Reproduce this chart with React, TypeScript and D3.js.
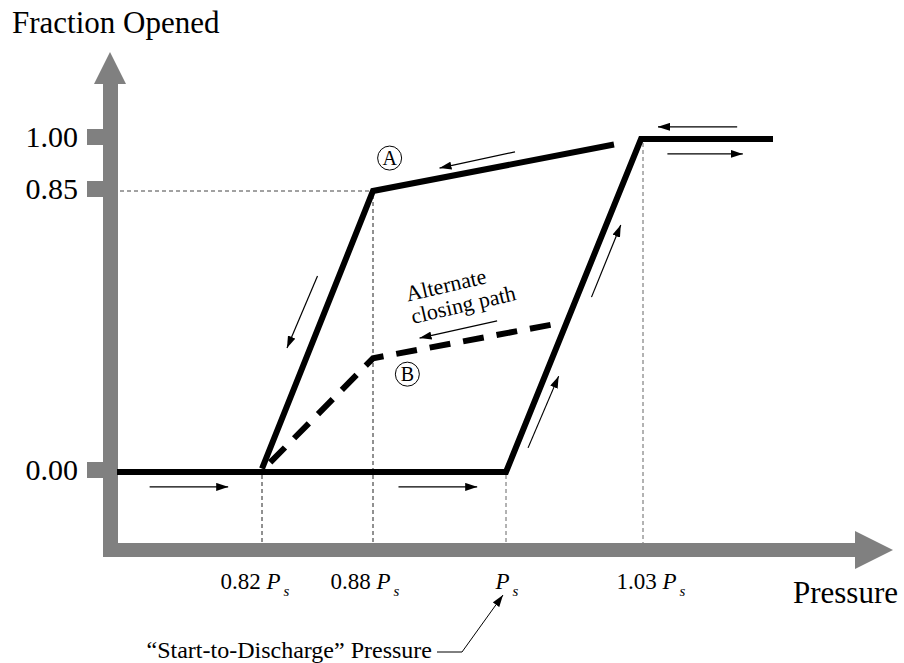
import React from "react";
import * as d3 from "d3";

// ---------- data ----------
const pressureTicks = [0.82, 0.88, 1.0, 1.03];
const pressureTickNumbers = ["0.82", "0.88", "", "1.03"];
const guideTopFraction = [0, 0.85, 0, 1.0];
const fractionTicks = [0, 0.85, 1.0];
const fractionTickLabels = ["0.00", "0.85", "1.00"];

// opening curve (pressure, fraction opened)
const openingPressure = [0.7, 1.0, 1.03, 1.1];
const openingFraction = [0, 0, 1.0, 1.0];
// closing curve via A
const closingPressure = [1.024, 0.88, 0.82];
const closingFraction = [0.984, 0.85, 0.01];
// alternate closing path via B
const alternatePressure = [1.0099, 0.88, 0.822];
const alternateFraction = [0.445, 0.344, 0.015];

// direction arrows: [p0, f0, p1, f1]
const directionArrows = [
  [0.727, -0.045, 0.792, -0.045],
  [0.903, -0.045, 0.974, -0.045],
  [1.081, 1.035, 1.039, 1.035],
  [1.044, 0.957, 1.084, 0.957],
  [1.002, 0.963, 0.94, 0.916],
  [0.85, 0.593, 0.8335, 0.375],
  [0.992, 0.457, 0.922, 0.405],
  [1.019, 0.529, 1.0255, 0.747],
  [1.0049, 0.073, 1.0117, 0.29],
];

const pointLabels = ["A", "B"];
const pointLabelPressure = [0.895, 0.911];
const pointLabelFraction = [0.945, 0.296];

const altLabelLines = ["Alternate", "closing path"];
const altLabelPressure = 0.916;
const altLabelFraction = 0.448;

const yAxisTitle = "Fraction Opened";
const xAxisTitle = "Pressure";
const calloutText = "\u201CStart-to-Discharge\u201D Pressure";

// ---------- layout ----------
const W = 904;
const H = 663;
const FONT = "'Liberation Serif', 'Times New Roman', serif";
const GRAY = "#808080";
const labelDx = [-7, -8, 1, 10];

export default function App() {
  const x = d3
    .scaleLinear()
    .domain([0.7, 0.82, 0.88, 1.0, 1.03, 1.1])
    .range([117, 262, 373, 506, 641, 773]);
  const y = d3.scaleLinear().domain([0, 0.85, 1.0]).range([472, 191, 139]);

  const line = d3
    .line<[number, number]>()
    .x((d) => x(d[0]))
    .y((d) => y(d[1]));

  const opening = openingPressure.map((p, i) => [p, openingFraction[i]] as [number, number]);
  const closing = closingPressure.map((p, i) => [p, closingFraction[i]] as [number, number]);
  const alternate = alternatePressure.map((p, i) => [p, alternateFraction[i]] as [number, number]);

  const axisX0 = 103;
  const axisW = 15;
  const xAxisY = 543;
  const xAxisEnd = 855;

  const psX = x(1.0);

  return (
    <svg
      width={W}
      height={H}
      style={{ position: "absolute", left: 0, top: 0, background: "#fff" }}
      fontFamily={FONT}
    >
      <defs>
        <marker
          id="ah"
          viewBox="0 0 12 8"
          refX={12}
          refY={4}
          markerWidth={12}
          markerHeight={8}
          markerUnits="userSpaceOnUse"
          orient="auto"
        >
          <path d="M0,0 L12,4 L0,8 Z" fill="#000" />
        </marker>
      </defs>

      {/* guides */}
      {pressureTicks.map((p, i) => (
        <line
          key={"g" + i}
          x1={x(p) + (i === 3 ? 2 : 0)}
          x2={x(p) + (i === 3 ? 2 : 0)}
          y1={y(guideTopFraction[i]) + (guideTopFraction[i] === 0 ? 3 : 4)}
          y2={xAxisY}
          stroke={i < 2 ? "#222" : "#666"}
          strokeWidth={1}
          strokeDasharray="4,3"
        />
      ))}
      <line
        x1={axisX0 + axisW + 2}
        x2={x(0.88)}
        y1={y(0.85)}
        y2={y(0.85)}
        stroke="#444"
        strokeWidth={1}
        strokeDasharray="4,3"
      />

      {/* axes */}
      <rect x={axisX0} y={83} width={axisW} height={xAxisY + 14 - 83} fill={GRAY} />
      <polygon points={`${axisX0 + axisW / 2 - 0.5},52 ${axisX0 - 9},84 ${axisX0 + axisW + 8},84`} fill={GRAY} />
      <rect x={axisX0} y={xAxisY} width={xAxisEnd - axisX0} height={14} fill={GRAY} />
      <polygon points={`${xAxisEnd},531 893,${xAxisY + 7} ${xAxisEnd},569`} fill={GRAY} />

      {/* y ticks */}
      {fractionTicks.map((f, i) => (
        <g key={"yt" + i}>
          <rect x={87} y={y(f) - 2 - 8} width={16} height={16} fill={GRAY} />
          <text x={78} y={y(f) - 2 + 10} fontSize={30} textAnchor="end" fill="#000">
            {fractionTickLabels[i]}
          </text>
        </g>
      ))}

      {/* x tick labels */}
      {pressureTicks.map((p, i) => (
        <text key={"xt" + i} x={x(p) + labelDx[i]} y={589} fontSize={23} textAnchor="middle" fill="#000">
          {pressureTickNumbers[i] ? pressureTickNumbers[i] + " " : ""}
          <tspan fontStyle="italic">P</tspan>
          <tspan fontStyle="italic" fontSize={15} dx={3} dy={7}>
            s
          </tspan>
        </text>
      ))}

      {/* curves */}
      <path d={line(opening) || ""} fill="none" stroke="#000" strokeWidth={6} strokeLinejoin="miter" />
      <path d={line(closing) || ""} fill="none" stroke="#000" strokeWidth={6} strokeLinejoin="miter" />
      <path
        d={line(alternate) || ""}
        fill="none"
        stroke="#000"
        strokeWidth={6}
        strokeDasharray="21,13"
        strokeLinejoin="miter"
      />

      {/* direction arrows */}
      {directionArrows.map((a, i) => (
        <line
          key={"da" + i}
          x1={x(a[0])}
          y1={y(a[1])}
          x2={x(a[2])}
          y2={y(a[3])}
          stroke="#000"
          strokeWidth={1.2}
          markerEnd="url(#ah)"
        />
      ))}

      {/* circled labels */}
      {pointLabels.map((t, i) => (
        <g key={"pl" + i} transform={`translate(${x(pointLabelPressure[i])},${y(pointLabelFraction[i])})`}>
          <circle r={12} fill="#fff" stroke="#000" strokeWidth={1} />
          <text y={7} fontSize={20} textAnchor="middle" fill="#000">
            {t}
          </text>
        </g>
      ))}

      {/* alternate label */}
      <g transform={`translate(${x(altLabelPressure)},${y(altLabelFraction)}) rotate(-13)`}>
        <text x={0} y={-23} fontSize={22} fill="#000">
          {altLabelLines[0]}
        </text>
        <text x={0} y={0} fontSize={22} fill="#000">
          {altLabelLines[1]}
        </text>
      </g>

      {/* titles */}
      <text x={12} y={33} fontSize={31} fill="#000">
        {yAxisTitle}
      </text>
      <text x={898} y={603} fontSize={31} textAnchor="end" fill="#000">
        {xAxisTitle}
      </text>

      {/* callout */}
      <text x={432} y={658} fontSize={24} textAnchor="end" fill="#000">
        {calloutText}
      </text>
      <polyline
        points={`${437},${652} ${462},${652} ${psX - 3},${595}`}
        fill="none"
        stroke="#000"
        strokeWidth={1}
        markerEnd="url(#ah)"
      />
    </svg>
  );
}
